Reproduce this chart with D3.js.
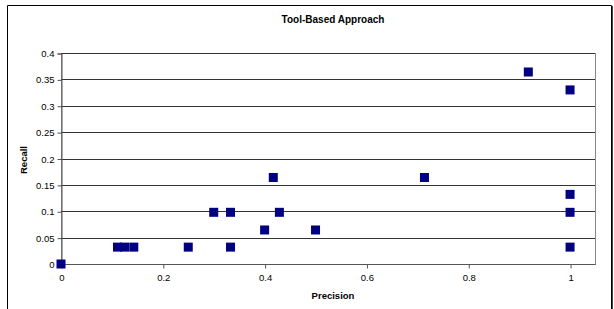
<!DOCTYPE html>
<html><head><meta charset="utf-8">
<script src="https://cdn.jsdelivr.net/npm/d3@7/dist/d3.min.js"></script>
<style>body{margin:0;background:#fff;}svg{display:block;font-family:"Liberation Sans",Arial,sans-serif;}</style>
</head><body>
<script>
const precision = [0, 0.111, 0.125, 0.143, 0.25, 0.3, 0.333, 0.333, 0.4, 0.417, 0.429, 0.5, 0.714, 0.918, 1, 1, 1, 1];
const recall    = [0, 0.032, 0.032, 0.032, 0.032, 0.098, 0.098, 0.032, 0.0645, 0.164, 0.098, 0.0645, 0.164, 0.364, 0.33, 0.132, 0.098, 0.032];
const xTicks = [0, 0.2, 0.4, 0.6, 0.8, 1];
const yTicks = [0, 0.05, 0.1, 0.15, 0.2, 0.25, 0.3, 0.35, 0.4];
const title = "Tool-Based Approach";
const xLabel = "Precision";
const yLabel = "Recall";

const W = 614, H = 309;
const svg = d3.select("body").append("svg").attr("width", W).attr("height", H);

// outer chart border
svg.append("path").attr("d", "M7.5,320 V5.5 H611.5 V320").attr("fill", "none").attr("stroke", "#000").attr("stroke-width", 1);
svg.append("line").attr("x1", 612.5).attr("x2", 612.5).attr("y1", 6).attr("y2", 320).attr("stroke", "#444");

const x = d3.scaleLinear().domain([0, 1.049]).range([61, 595]);
const y = d3.scaleLinear().domain([0, 0.4]).range([264, 53]);

// plot area border
svg.append("rect").attr("x", 61.5).attr("y", y(0.4) + 0.5).attr("width", x(1.049) - 61).attr("height", y(0) - y(0.4))
  .attr("fill", "#fff").attr("stroke", "#888");

// gridlines
svg.append("g").selectAll("line").data(yTicks.filter(d => d > 0)).join("line")
  .attr("x1", 61).attr("x2", x(1.049)).attr("y1", d => Math.round(y(d)) + 0.5).attr("y2", d => Math.round(y(d)) + 0.5)
  .attr("stroke", "#333").attr("stroke-width", 1);

// axes
const yAxis = d3.axisLeft(y).tickValues(yTicks).tickSize(4).tickPadding(3).tickFormat(d => d3.format("")(+d.toFixed(2)));
const gy = svg.append("g").attr("transform", "translate(61.5,0.5)").call(yAxis);
const xAxis = d3.axisBottom(x).tickValues(xTicks).tickSize(4).tickPadding(6).tickFormat(d => d3.format("")(+d.toFixed(1)));
const gx = svg.append("g").attr("transform", `translate(0.5,${Math.round(y(0)) + 0.5})`).call(xAxis);
[gx, gy].forEach(g => {
  g.select(".domain").attr("stroke", "#555");
  g.selectAll(".tick line").attr("stroke", "#555");
  g.selectAll(".tick text").attr("fill", "#000").attr("font-size", "9.5px").attr("font-family", "Liberation Sans, Arial, sans-serif");
});
gx.select(".domain").attr("d", `M61,0H${x(1.049)}`);

// points
const pts = precision.map((p, i) => ({p, r: recall[i]}));
svg.append("g").selectAll("rect").data(pts).join("rect")
  .attr("x", d => x(d.p) - 4.5).attr("y", d => y(d.r) - 4.5).attr("width", 9).attr("height", 9)
  .attr("fill", "#000080");

// titles
svg.append("text").attr("x", 333).attr("y", 23).attr("text-anchor", "middle")
  .attr("font-size", "10px").attr("font-weight", "bold").text(title);
svg.append("text").attr("x", 333).attr("y", 299).attr("text-anchor", "middle")
  .attr("font-size", "9.5px").attr("font-weight", "bold").text(xLabel);
svg.append("text").attr("transform", "translate(27,160) rotate(-90)").attr("text-anchor", "middle")
  .attr("font-size", "9.5px").attr("font-weight", "bold").text(yLabel);
</script>
</body></html>
